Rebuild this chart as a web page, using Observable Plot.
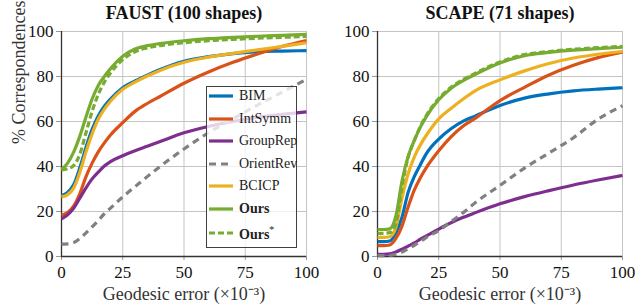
<!DOCTYPE html>
<html>
<head>
<meta charset="utf-8">
<script src="https://cdn.jsdelivr.net/npm/d3@7"></script>
<script src="https://cdn.jsdelivr.net/npm/@observablehq/plot@0.6"></script>
<style>
  html, body { margin: 0; padding: 0; background: white; }
  #wrap { position: relative; width: 644px; height: 308px; font-family: "Liberation Serif", serif; }
  #wrap svg, #wrap svg text { font-family: "Liberation Serif", serif !important; }
  .panel { position: absolute; top: 0; }
  #legend { position: absolute; left: 206px; top: 86px; width: 91px; height: 162px;
            border: 1px solid #404040; background: rgba(255,255,255,0.78); box-sizing: border-box; }
  .row { position: absolute; left: 0; height: 20px; display: flex; align-items: center; font-size: 14px; color: #222; }
  .row svg { margin-left: 2px; margin-right: 6px; }
</style>
</head>
<body>
<div id="wrap">
  <div id="left" class="panel" style="left:0px"></div>
  <div id="right" class="panel" style="left:322px"></div>
  <div id="legend"></div>
</div>
<script>
// ---- data ----
const xs = [0, 2.5, 5, 7.5, 10, 12.5, 15, 17.5, 20, 25, 30, 35, 40, 50, 60, 70, 80, 90, 100];
const xTicks = [0, 25, 50, 75, 100];
const yTicks = [0, 20, 40, 60, 80, 100];
const methods = ["BIM", "IntSymm", "GroupRep", "OrientRev", "BCICP", "Ours", "Ours*"];
const colors = ["#0072BD", "#D95319", "#7E2F8E", "#808080", "#EDB120", "#77AC30", "#77AC30"];
const dashes = [null, null, null, "7,5", null, null, "6,3"];
const titles = ["FAUST (100 shapes)", "SCAPE (71 shapes)"];
const xLabel = "Geodesic error (×10⁻³)";
const yLabel = "% Correspondences";

// FAUST
const faustBIM      = [27, 28.5, 32, 39.5, 48.5, 56.5, 62.5, 66.8, 70, 75, 78, 80.6, 83, 86.8, 88.8, 90.2, 91, 91.3, 91.5];
const faustIntSymm  = [18.3, 19.5, 22.5, 28, 35.5, 41.5, 46.5, 50.5, 54, 59.5, 64.5, 68, 71, 77, 82, 86.3, 90, 93.3, 96];
const faustGroupRep = [16.7, 18.5, 21.5, 26, 30.5, 34.5, 37.5, 40.2, 42.2, 44.8, 47, 49, 51, 55, 57.8, 60, 61.8, 63.2, 64.3];
const faustOrientRev= [5.5, 5.6, 6.2, 8, 10.5, 13.2, 16, 19, 21.5, 26.5, 31, 35.5, 39.8, 47.8, 55, 61.2, 67.3, 73, 78.7];
const faustBCICP    = [26.5, 27.5, 30.5, 37.5, 46.5, 54.5, 61, 65.5, 69, 74.3, 77.5, 80.2, 82.6, 86.3, 88.6, 90.3, 91.8, 93.4, 95];
const faustOurs     = [38.7, 41.5, 46.5, 53.5, 62, 70, 76, 80, 83.5, 89, 92.2, 93.7, 94.6, 95.9, 96.8, 97.4, 97.9, 98.3, 98.7];
const faustOursStar = [38.5, 39, 40.5, 45.5, 55, 64.5, 72, 77.5, 81.5, 87.5, 91, 92.7, 93.7, 95, 95.9, 96.5, 97, 97.4, 97.8];

// SCAPE
const scapeBIM      = [6.6, 6.6, 6.9, 10.5, 17.5, 28.5, 35.5, 40.8, 45.8, 52.2, 56.8, 60.2, 62.5, 67.1, 70.4, 72.3, 73.6, 74.4, 75];
const scapeIntSymm  = [4.8, 4.8, 5.1, 8, 13.5, 22, 29.5, 35, 39.6, 47, 53.2, 58, 61.5, 69.3, 75.2, 80.7, 85, 88.4, 90.8];
const scapeGroupRep = [1, 1, 1.2, 2, 3.2, 4.6, 6, 7.7, 9.2, 12.2, 15, 17.4, 19.5, 23.4, 26.6, 29.3, 31.8, 34, 36];
const scapeOrientRev= [0.4, 0.4, 0.5, 1, 2, 3.5, 5, 6.7, 8.5, 11.5, 15.5, 19.5, 24, 31.6, 39.3, 46, 52.8, 61, 67];
const scapeBCICP    = [8.5, 8.5, 8.8, 13, 26, 36.8, 44.2, 49.6, 54, 61.2, 65.8, 70, 73.7, 78.5, 82.5, 85.8, 88.2, 89.9, 91.1];
const scapeOurs     = [12, 12, 12.3, 18, 33.5, 44.5, 51.5, 57.5, 62.3, 69.7, 74.7, 78.2, 81, 86, 89.3, 90.7, 91.7, 92.4, 93];
const scapeOursStar = [10.3, 10.3, 10.6, 14.5, 31, 44, 51.5, 57.8, 62.8, 70.2, 75.2, 78.7, 81.5, 86.5, 89.7, 91.1, 92.1, 92.8, 93.4];

const faust = [faustBIM, faustIntSymm, faustGroupRep, faustOrientRev, faustBCICP, faustOurs, faustOursStar];
const scape = [scapeBIM, scapeIntSymm, scapeGroupRep, scapeOrientRev, scapeBCICP, scapeOurs, scapeOursStar];

const FONT = "Liberation Serif";

function panel(title, series, ml, mr, showYLabel) {
  const lines = series.map((ys, i) => Plot.line(xs.map((x, j) => ({x, y: ys[j]})), {
    x: "x", y: "y", stroke: colors[i], strokeWidth: 3.2, curve: "monotone-x",
    strokeDasharray: dashes[i] || undefined, strokeLinecap: "butt", strokeLinejoin: "round"
  }));
  const marks = [
    Plot.gridX(xTicks, {stroke: "#c4c4c4", strokeOpacity: 1, strokeWidth: 1}),
    Plot.gridY(yTicks, {stroke: "#c4c4c4", strokeOpacity: 1, strokeWidth: 1}),
    Plot.axisX(xTicks, {tickSize: 4, tickPadding: 5, stroke: "#999", fill: "#111", fontSize: 17, fontFamily: FONT, label: null}),
    Plot.axisY(yTicks, {tickSize: 5, tickPadding: 3, stroke: "#999", fill: "#111", fontSize: 17, fontFamily: FONT, label: null}),
    Plot.ruleX([0], {stroke: "#333", strokeWidth: 1.3}),
    Plot.ruleY([0], {stroke: "#333", strokeWidth: 1.3}),
    ...lines,
    Plot.text([title], {frameAnchor: "top", lineAnchor: "middle", dy: -18, fontWeight: "bold", fontSize: 18, fontFamily: FONT, fill: "#111"}),
    Plot.text([xLabel], {frameAnchor: "bottom", lineAnchor: "middle", dy: 38, fontSize: 18, fontFamily: FONT, fill: "#333"})
  ];
  if (showYLabel) {
    marks.push(Plot.text([yLabel], {frameAnchor: "left", lineAnchor: "middle", rotate: -90, dx: -42, fontSize: 18, fontFamily: FONT, fill: "#333"}));
  }
  return Plot.plot({
    width: 322, height: 308,
    marginLeft: ml, marginRight: mr, marginTop: 31, marginBottom: 52,
    x: {domain: [0, 100]},
    y: {domain: [0, 100]},
    style: {fontFamily: "'Liberation Serif', serif", background: "white", color: "#222"},
    marks
  });
}

document.getElementById("left").appendChild(panel(titles[0], faust, 61, 16, true));
document.getElementById("right").appendChild(panel(titles[1], scape, 55, 22, false));

// legend
const legend = document.getElementById("legend");
methods.forEach((m, i) => {
  const row = document.createElement("div");
  row.className = "row";
  row.style.top = (i < 6 ? (-1 + i * 22.6) : (-1 + i * 22.6 + 1.5)) + "px";
  row.innerHTML = `<svg width="24" height="6"><line x1="0" y1="3" x2="24" y2="3" stroke="${colors[i]}" stroke-width="3.2" ${dashes[i] ? `stroke-dasharray="${dashes[i]}"` : ""}/></svg>`;
  const label = document.createElement("span");
  if (m === "Ours") { label.innerHTML = "<b>Ours</b>"; }
  else if (m === "Ours*") { label.innerHTML = "<b>Ours</b><sup style='font-size:10px'>*</sup>"; }
  else label.textContent = m;
  row.appendChild(label);
  legend.appendChild(row);
});
</script>
</body>
</html>
